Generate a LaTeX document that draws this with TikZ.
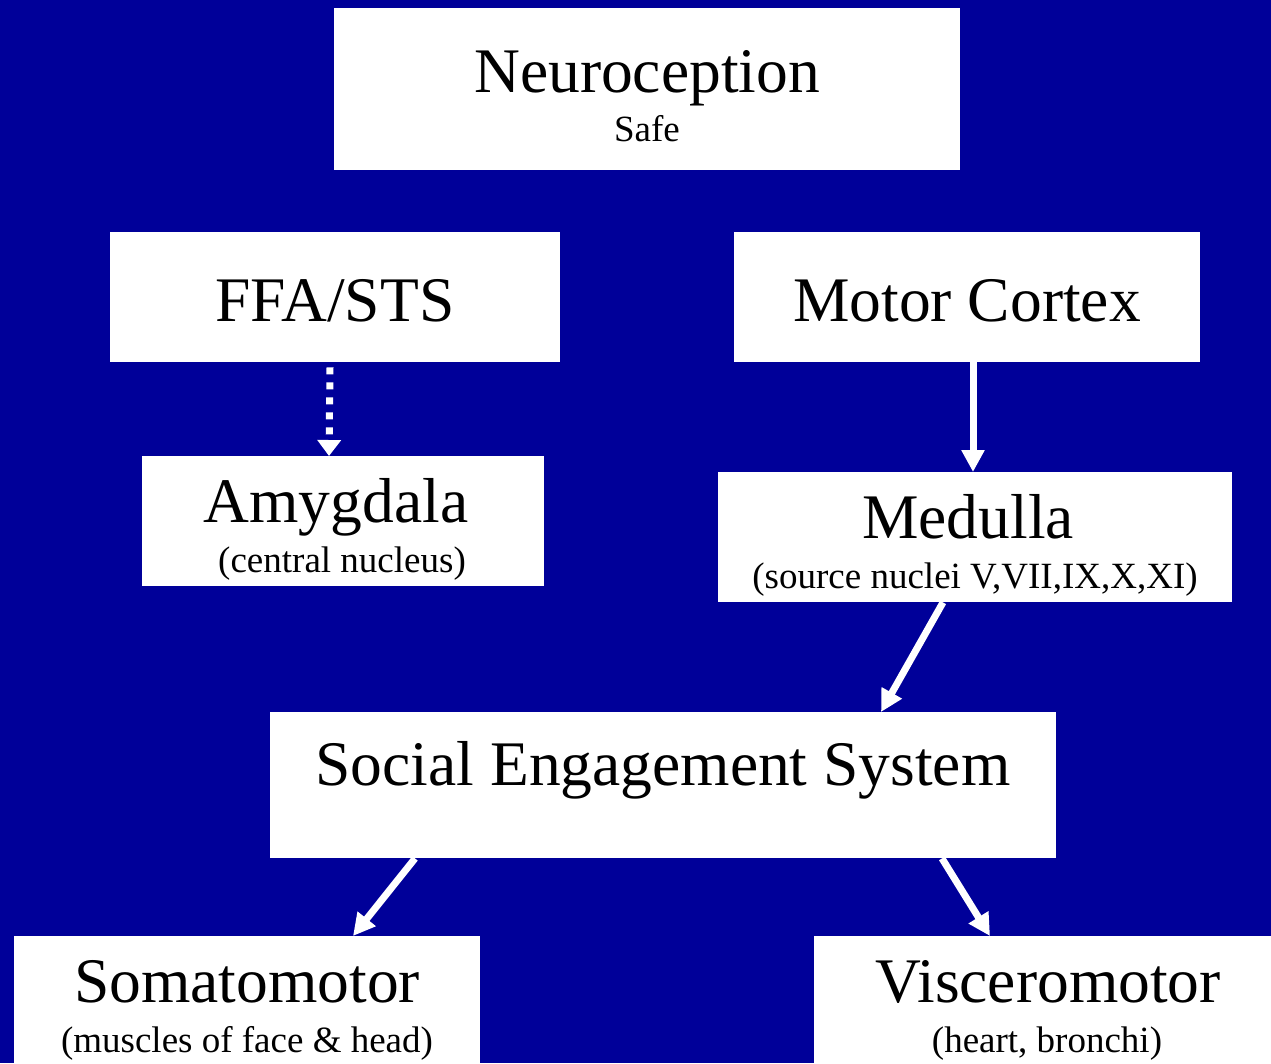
\documentclass[tikz,border=0pt]{standalone}
\usepackage{fontspec}
\setmainfont{Liberation Serif}
\usetikzlibrary{arrows.meta,calc}
\definecolor{bgblue}{RGB}{0,0,153}
\begin{document}
\begin{tikzpicture}[x=1pt,y=-1pt,
  box/.style={fill=white,draw=none,inner sep=0pt,anchor=north west},
  big/.style={font=\fontsize{63.5}{64}\selectfont,anchor=base,inner sep=0pt,text=black},
  small/.style={font=\fontsize{37}{37}\selectfont,anchor=base,inner sep=0pt,text=black},
  arr/.style={draw=white,line width=7pt,-{Triangle[width=22pt,length=22pt]}},
  dotarr/.style={draw=white,line width=7pt,dash pattern=on 7pt off 8pt,-{Triangle[width=23pt,length=16pt]}}
]
\useasboundingbox (0,0) rectangle (1271,1063);
\clip (0,0) rectangle (1271,1063);
\fill[bgblue] (0,0) rectangle (1271,1063);

% boxes
\node[box,minimum width=626pt,minimum height=162pt] (neuro) at (334,8) {};
\node[box,minimum width=450pt,minimum height=130pt] (ffa) at (110,232) {};
\node[box,minimum width=466pt,minimum height=130pt] (motor) at (734,232) {};
\node[box,minimum width=402pt,minimum height=130pt] (amyg) at (142,456) {};
\node[box,minimum width=514pt,minimum height=130pt] (med) at (718,472) {};
\node[box,minimum width=786pt,minimum height=146pt] (ses) at (270,712) {};
\node[box,minimum width=466pt,minimum height=140pt] (soma) at (14,936) {};
\node[box,minimum width=470pt,minimum height=140pt] (visc) at (814,936) {};

% texts
\node[big] (tneuro) at (647,92) {Neuroception};
\node[small] (tsafe) at (647,141) {Safe};
\node[big] (tffa) at (335,321) {FFA/STS};
\node[big] (tmotor) at (967,321) {Motor Cortex};
\node[big] (tamyg) at (336,522) {Amygdala};
\node[small] (tamygsub) at (342,572) {(central nucleus)};
\node[big] (tmed) at (968,538) {Medulla};
\node[small] (tmedsub) at (975,588) {(source nuclei V,VII,IX,X,XI)};
\node[big] (tses) at (663,785) {Social Engagement System};
\node[big] (tsoma) at (247,1002) {Somatomotor};
\node[small] (tsomasub) at (247,1052) {(muscles of face \& head)};
\node[big] (tvisc) at (1048,1002) {Visceromotor};
\node[small] (tviscsub) at (1047,1052) {(heart, bronchi)};

% connectors
\draw[dotarr] ($(ffa.south west)+(220,5)$) -- ($(amyg.north west)+(187,0)$);
\draw[arr] ($(motor.south west)+(239,0)$) -- ($(med.north west)+(255,0)$);
\draw[arr] ($(med.south west)+(225,0)$) -- ($(ses.north west)+(611,0)$);
\draw[arr] ($(ses.south west)+(145,0)$) -- ($(soma.north west)+(339,0)$);
\draw[arr] ($(ses.south west)+(672,0)$) -- ($(visc.north west)+(176,0)$);
\end{tikzpicture}
\end{document}
